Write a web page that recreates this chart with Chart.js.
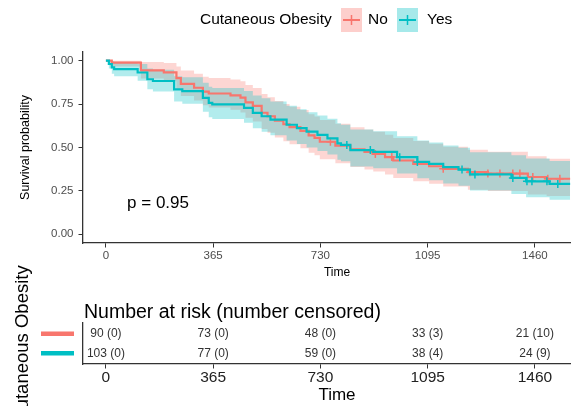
<!DOCTYPE html>
<html>
<head>
<meta charset="utf-8">
<script src="https://cdn.jsdelivr.net/npm/chart.js@4.4.1/dist/chart.umd.min.js"></script>
<style>
  html, body { margin: 0; padding: 0; background: #fff; width: 571px; height: 406px; overflow: hidden; }
  canvas { position: absolute; left: 0; }
  #main { top: 0; }
  #risk { top: 250px; }
</style>
</head>
<body>
<canvas id="main" width="600" height="285" style="width:600px;height:285px"></canvas>
<canvas id="risk" width="600" height="156" style="width:600px;height:156px"></canvas>
<script>
// ---- data ----
const xTicks = [0, 365, 730, 1095, 1460];
const yTicks = [0, 0.25, 0.5, 0.75, 1];
const groups = ['No', 'Yes'];
const legendTitle = 'Cutaneous Obesity';
const pValue = 'p = 0.95';

// Cutaneous Obesity = No
const timeNo = [0, 20, 119, 197, 240, 255, 300, 330, 350, 424, 458, 475, 500, 530, 550, 575, 604, 625, 662, 690, 710, 728, 781, 832, 880, 910, 950, 978, 1046, 1100, 1148, 1232, 1300, 1436, 1500, 1580];
const survNo = [1, 0.989, 0.944, 0.933, 0.9, 0.867, 0.844, 0.822, 0.811, 0.8, 0.787, 0.76, 0.74, 0.7, 0.68, 0.655, 0.634, 0.617, 0.596, 0.57, 0.556, 0.533, 0.511, 0.489, 0.475, 0.463, 0.445, 0.425, 0.406, 0.392, 0.377, 0.358, 0.35, 0.33, 0.32, 0.32];
const lowNo = [1, 0.967, 0.897, 0.882, 0.838, 0.797, 0.77, 0.743, 0.73, 0.717, 0.702, 0.672, 0.65, 0.607, 0.585, 0.558, 0.536, 0.518, 0.496, 0.47, 0.456, 0.432, 0.41, 0.388, 0.374, 0.362, 0.344, 0.324, 0.305, 0.291, 0.276, 0.257, 0.249, 0.229, 0.22, 0.22];
const upNo = [1, 1, 0.992, 0.987, 0.966, 0.943, 0.925, 0.908, 0.9, 0.891, 0.881, 0.86, 0.843, 0.808, 0.79, 0.768, 0.75, 0.735, 0.716, 0.692, 0.679, 0.658, 0.637, 0.616, 0.603, 0.591, 0.574, 0.555, 0.537, 0.522, 0.505, 0.487, 0.476, 0.45, 0.435, 0.435];
const censNo = [764, 917, 973, 1148, 1239, 1300, 1341, 1385, 1409, 1453, 1504, 1545];

// Cutaneous Obesity = Yes
const timeYes = [0, 10, 20, 28, 108, 141, 160, 232, 260, 330, 350, 362, 470, 500, 530, 560, 615, 650, 683, 720, 754, 788, 800, 832, 910, 991, 1060, 1100, 1148, 1200, 1239, 1380, 1430, 1510, 1580];
const survYes = [1, 0.981, 0.961, 0.951, 0.932, 0.893, 0.883, 0.835, 0.825, 0.786, 0.757, 0.748, 0.728, 0.699, 0.68, 0.66, 0.631, 0.612, 0.592, 0.573, 0.553, 0.524, 0.515, 0.485, 0.475, 0.444, 0.417, 0.406, 0.387, 0.373, 0.345, 0.325, 0.305, 0.29, 0.29];
const lowYes = [1, 0.955, 0.925, 0.911, 0.885, 0.835, 0.822, 0.765, 0.752, 0.706, 0.674, 0.664, 0.642, 0.611, 0.591, 0.57, 0.54, 0.52, 0.5, 0.48, 0.46, 0.43, 0.421, 0.391, 0.381, 0.35, 0.323, 0.312, 0.293, 0.279, 0.252, 0.232, 0.213, 0.199, 0.199];
const upYes = [1, 1, 0.996, 0.992, 0.981, 0.955, 0.948, 0.911, 0.904, 0.873, 0.85, 0.843, 0.825, 0.8, 0.783, 0.765, 0.74, 0.721, 0.703, 0.685, 0.666, 0.64, 0.631, 0.603, 0.593, 0.565, 0.54, 0.529, 0.511, 0.498, 0.472, 0.455, 0.436, 0.422, 0.422];
const censYes = [820, 900, 1000, 1060, 1212, 1256, 1385, 1433, 1450, 1501, 1538];

// number at risk (number censored)
const atRiskNo = [90, 73, 48, 33, 21];
const censoredNo = [0, 0, 0, 3, 10];
const atRiskYes = [103, 77, 59, 38, 24];
const censoredYes = [0, 0, 0, 4, 9];

const RED = '#F8766D';
const TEAL = '#00BFC4';
const FONT = '"Liberation Sans", Arial, Helvetica, sans-serif';
Chart.defaults.font.family = FONT;
Chart.defaults.animation = false;

const pts = (t, v) => t.map((x, i) => ({x: x, y: v[i]}));
// KM value at time t (step function)
const stepAt = (t, v, x) => {
  let y = v[0];
  t.forEach((tt, i) => { if (tt <= x) y = v[i]; });
  return y;
};

const band = (t, v, order, extra) => Object.assign({
  data: pts(t, v), stepped: true, borderWidth: 0, borderColor: 'transparent',
  pointRadius: 0, order: order
}, extra);

// legend + p value
const mainDecor = {
  id: 'mainDecor',
  afterDraw(chart) {
    const {ctx, scales: {x, y}} = chart;
    ctx.save();
    ctx.fillStyle = '#000';
    ctx.textBaseline = 'middle';
    ctx.font = '15.5px ' + FONT;
    ctx.fillText(legendTitle, 200, 20);
    const keys = [[341, RED, 'rgba(248,118,109,0.35)', 368], [397, TEAL, 'rgba(0,191,196,0.35)', 427]];
    keys.forEach(([kx, col, fillc, tx], i) => {
      ctx.fillStyle = fillc;
      ctx.fillRect(kx, 8, 21, 24);
      ctx.strokeStyle = col;
      ctx.lineWidth = 2;
      ctx.beginPath(); ctx.moveTo(kx + 2, 20); ctx.lineTo(kx + 19, 20); ctx.stroke();
      ctx.lineWidth = 1.5;
      ctx.beginPath(); ctx.moveTo(kx + 10.5, 15); ctx.lineTo(kx + 10.5, 25); ctx.stroke();
      ctx.fillStyle = '#000';
      ctx.fillText(groups[i], tx, 20);
    });
    ctx.font = '17px ' + FONT;
    ctx.fillText(pValue, x.getPixelForValue(72), y.getPixelForValue(0.18));
    ctx.restore();
  }
};

new Chart(document.getElementById('main'), {
  type: 'line',
  data: {
    datasets: [
      band(timeNo, lowNo, 40, {fill: false}),
      band(timeNo, upNo, 40, {fill: '-1', backgroundColor: 'rgba(248,118,109,0.3)'}),
      band(timeYes, lowYes, 30, {fill: false}),
      band(timeYes, upYes, 30, {fill: '-1', backgroundColor: 'rgba(0,191,196,0.3)'}),
      {data: pts(timeNo, survNo), stepped: true, borderColor: RED, borderWidth: 2.2, pointRadius: 0, fill: false, order: 20},
      {data: pts(timeYes, survYes), stepped: true, borderColor: TEAL, borderWidth: 2.2, pointRadius: 0, fill: false, order: 10},
      {data: censNo.map(t => ({x: t, y: stepAt(timeNo, survNo, t)})), showLine: false, pointStyle: 'cross',
        pointRadius: 4, borderColor: RED, pointBorderWidth: 1.5, order: 15},
      {data: censYes.map(t => ({x: t, y: stepAt(timeYes, survYes, t)})), showLine: false, pointStyle: 'cross',
        pointRadius: 4, borderColor: TEAL, pointBorderWidth: 1.5, order: 5}
    ]
  },
  options: {
    responsive: false,
    layout: {padding: {top: 52, right: 9, left: 0, bottom: 0}},
    plugins: {legend: {display: false}, tooltip: {enabled: false}},
    scales: {
      x: {
        type: 'linear', min: -78, max: 1651,
        afterBuildTicks: s => { s.ticks = xTicks.map(v => ({value: v})); },
        afterFit: s => { s.height = 42; },
        ticks: {color: '#4d4d4d', font: {size: 11.5}, padding: 1.5, maxRotation: 0, autoSkip: false, callback: v => String(v)},
        grid: {drawOnChartArea: false, drawTicks: true, tickLength: 4.5, color: '#333', tickWidth: 1},
        border: {display: true, color: '#333', width: 1.3},
        title: {display: true, text: 'Time', color: '#000', font: {size: 12}, padding: {top: 0, bottom: 4.8}}
      },
      y: {
        type: 'linear', min: -0.05, max: 1.05,
        afterBuildTicks: s => { s.ticks = yTicks.map(v => ({value: v})); },
        afterFit: s => { s.width = 83; },
        ticks: {color: '#4d4d4d', font: {size: 11.5}, padding: 5, callback: v => v.toFixed(2)},
        grid: {drawOnChartArea: false, drawTicks: true, tickLength: 4.5, color: '#333', tickWidth: 1},
        border: {display: true, color: '#333', width: 1.3},
        title: {display: true, text: 'Survival probability', color: '#000', font: {size: 12.5}, padding: {top: 18.5, bottom: 0}}
      }
    }
  },
  plugins: [mainDecor]
});

// risk table
const riskDecor = {
  id: 'riskDecor',
  afterDraw(chart) {
    const {ctx, scales: {x, y}, chartArea} = chart;
    ctx.save();
    ctx.textBaseline = 'middle';
    ctx.textAlign = 'center';
    ctx.fillStyle = '#333';
    ctx.font = '12px ' + FONT;
    xTicks.forEach((t, i) => {
      const px = x.getPixelForValue(t);
      ctx.fillText(atRiskNo[i] + ' (' + censoredNo[i] + ')', px, y.getPixelForValue(2));
      ctx.fillText(atRiskYes[i] + ' (' + censoredYes[i] + ')', px, y.getPixelForValue(1));
    });
    // colour keys as y labels
    [[2, RED], [1, TEAL]].forEach(([row, col]) => {
      ctx.strokeStyle = col;
      ctx.lineWidth = 4.5;
      ctx.beginPath();
      ctx.moveTo(41, y.getPixelForValue(row));
      ctx.lineTo(74, y.getPixelForValue(row));
      ctx.stroke();
    });
    ctx.fillStyle = '#000';
    ctx.textAlign = 'left';
    ctx.font = '19.5px ' + FONT;
    ctx.fillText('Number at risk (number censored)', chartArea.left + 1, 63);
    // strata title, rotated
    ctx.font = '18.5px ' + FONT;
    ctx.textAlign = 'center';
    ctx.translate(23, 94);
    ctx.rotate(-Math.PI / 2);
    ctx.fillText(legendTitle, 0, 0);
    ctx.restore();
  }
};

new Chart(document.getElementById('risk'), {
  type: 'line',
  data: {datasets: []},
  options: {
    responsive: false,
    layout: {padding: {top: 73, right: 9, left: 0, bottom: 0}},
    plugins: {legend: {display: false}, tooltip: {enabled: false}},
    scales: {
      x: {
        type: 'linear', min: -78, max: 1651,
        afterBuildTicks: s => { s.ticks = xTicks.map(v => ({value: v})); },
        afterFit: s => { s.height = 42; },
        ticks: {color: '#222', font: {size: 15.5}, padding: 0, maxRotation: 0, autoSkip: false, callback: v => String(v)},
        grid: {drawOnChartArea: false, drawTicks: true, tickLength: 4.5, color: '#333', tickWidth: 1},
        border: {display: true, color: '#333', width: 1.3},
        title: {display: true, text: 'Time', color: '#000', font: {size: 17}, padding: {top: 0, bottom: 0}}
      },
      y: {
        type: 'linear', min: 0.45, max: 2.55,
        afterFit: s => { s.width = 83; },
        ticks: {display: false},
        grid: {display: false},
        border: {display: true, color: '#333', width: 1.3}
      }
    }
  },
  plugins: [riskDecor]
});
</script>
</body>
</html>
